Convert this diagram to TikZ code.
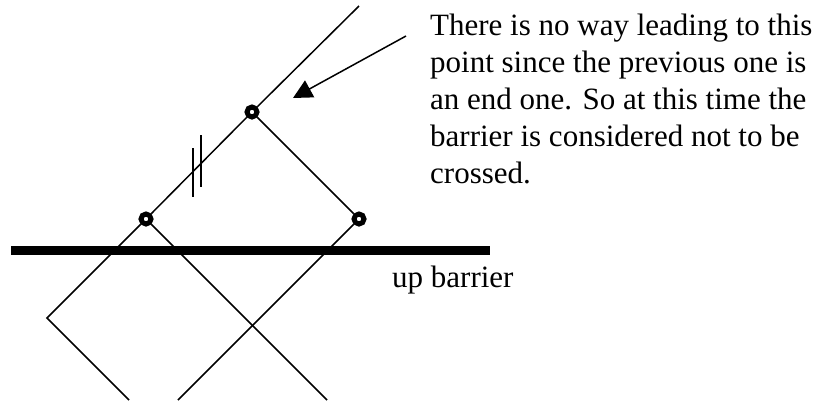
\documentclass[tikz,border=0pt]{standalone}
\usepackage{fontspec}
\setmainfont{Liberation Serif}
\usetikzlibrary{arrows.meta}
\tikzset{
  walk/.style={line width=1.5pt},
  ring/.style={circle,draw,line width=5pt,minimum size=10pt,inner sep=0pt,fill=white},
  barrier/.style={line width=9pt},
  note/.style={align=left,inner sep=0pt,font=\fontsize{31}{37}\selectfont},
  arrow/.style={-{Triangle[length=19pt,width=19pt]},line width=1.5pt}
}
\begin{document}
\begin{tikzpicture}[x=1pt,y=-1pt]
\useasboundingbox (0,0) rectangle (825,400);
% walk points
\node[ring] (ptB) at (252,112) {};
\node[ring] (ptA) at (146,219) {};
\node[ring] (ptC) at (359,219) {};
\coordinate (top) at (359,6);
\coordinate (kneeL) at (47,318);
\coordinate (endL) at (129,400);
\coordinate (endM) at (327,400);
\coordinate (endR) at (178,400);
\draw[walk] (top) -- (ptB); \draw[walk] (ptB) -- (ptA);
\draw[walk] (ptA) -- (kneeL) -- (endL);
\draw[walk] (ptA) -- (endM);
\draw[walk] (ptB) -- (ptC); \draw[walk] (ptC) -- (endR);
% cut marks
\draw[walk] (193,148) -- (193,197);
\draw[walk] (201,135) -- (201,187);
% barrier
\coordinate (barL) at (11,250);
\coordinate (barR) at (490,250);
\draw[barrier] (barL) -- (barR);
\node[note,anchor=base west] (barname) at (392,287) {up barrier};
% remark (base = last line)
\node[note,anchor=base west] (remark) at (430,183)
  {There is no way leading to this\\point since the previous one is\\an end one. So at this time the\\barrier is considered not to be\\crossed.};
\coordinate (tail) at (406,36);
\coordinate (tip) at (293,98);
\draw[arrow] (tail) -- (tip);
\end{tikzpicture}
\end{document}
